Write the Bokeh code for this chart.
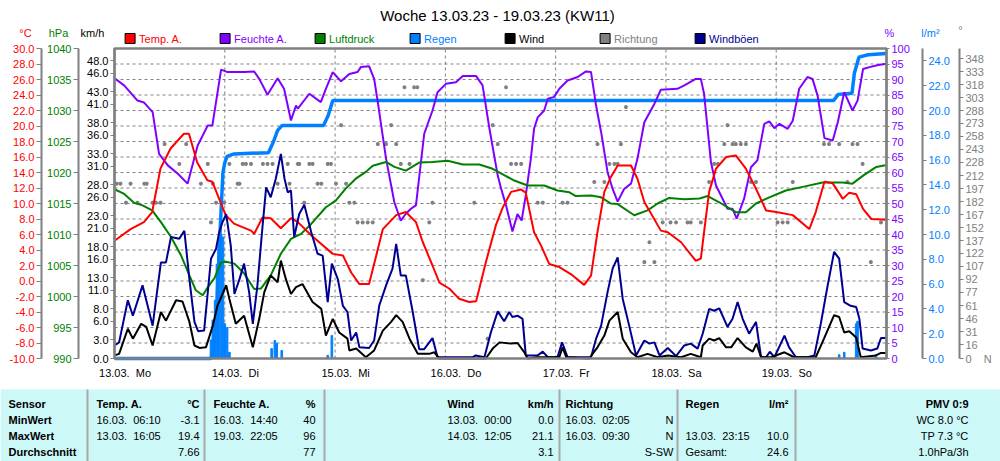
from bokeh.plotting import figure
from bokeh.models import Range1d, LinearAxis, FixedTicker, PrintfTickFormatter
from bokeh.embed import file_html
from bokeh.resources import INLINE
from bokeh.core.properties import value

FONT = "Liberation Sans"

# ---------------- data ----------------
temp_h = [0, 3.5, 6.4, 8.2, 10, 12.2, 15.1, 16.2, 18, 20.2, 21.3, 24.2, 26, 29.7, 30.4, 32.2, 34, 36.2,
          38.4, 39.9, 42.8, 43.8, 47.5, 49.7, 51.5, 53.3, 55.4, 58.4, 61.3, 63.4, 65.6, 67.1, 69.2, 70.7,
          72.9, 75, 77.2, 78.7, 80.8, 83, 84.5, 86.3, 88.5, 89.5, 91.3, 92.8, 94.6, 96.8, 99.3, 102.2,
          103.7, 105.1, 106.6, 108, 109.5, 112.4, 113.8, 115.3, 118.9, 120.4, 123.3, 126.5, 127.6, 128.3,
          129.4, 130.9, 133.1, 135.2, 137.4, 139.6, 141.8, 144, 147.6, 151.2, 152.6, 154.5, 156.3, 158.5,
          159.9, 161.4, 162.9, 164.7, 168]
temp_v = [5.2, 6.7, 7.6, 8.9, 14.5, 17.1, 19.0, 19.0, 15.3, 13.0, 12.8, 8.5, 7.4, 6.5, 6.1, 8.2, 8.1, 6.8,
          8.1, 7.6, 5.9, 5.4, 3.5, 3.3, 1.1, -0.4, -0.4, 6.7, 8.5, 8.9, 7.6, 5.0, 2.0, -0.2,
          -1.0, -2.3, -2.7, -2.6, 2.4, 7.2, 9.5, 11.5, 11.8, 11.4, 6.3, 4.6, 2.2, 1.8, 0.9, -0.5,
          0.7, 6.3, 11.5, 13.4, 14.9, 14.9, 13.2, 10.2, 6.5, 6.3, 5.0, 2.6, 2.9, 6.3,
          11.5, 14.5, 16.0, 16.2, 14.5, 11.9, 9.1, 8.9, 8.5, 6.7, 8.9, 12.8, 12.6, 10.6,
          11.4, 11.2, 9.3, 8.0, 7.9]

hum_h = [0, 2.1, 5, 6.4, 8.3, 9.7, 11.6, 13.8, 15.9, 18.1, 20.3, 21.3, 23.2, 24.6, 28.2, 30.4, 31.5, 33.3,
         35.5, 36.9, 38.4, 39.5, 39.9, 42.4, 44.9, 46, 47.5, 49.3, 51.1, 52.9, 53.6, 55.4, 56.5, 57.3,
         59.1, 60.9, 62.3, 63.4, 64.5, 65.6, 67.4, 69.2, 70.3, 72.1, 74.3, 75.8, 78.7, 80.1, 81.6, 83.4,
         84.1, 85.2, 86.6, 87.7, 88.6, 89.5, 90.6, 91.3, 92.1, 93.5, 94.3, 95.7, 96.8, 98.6, 100.8, 102.6,
         103.7, 104.8, 105.9, 107.3, 108.4, 109.5, 110.9, 112.4, 113.8, 115.3, 117.5, 118.9, 122.5, 124,
         126.5, 127.6, 128.3, 129.8, 130.9, 133.4, 134.5, 135.4, 137, 138.5, 139.9, 141.4, 142.5, 143.6,
         144.7, 146.5, 147.6, 149, 150.8, 151.9, 153, 154.5, 156.3, 157.4, 158.8, 160.6, 161.7, 162.9,
         164.3, 166.2, 168]
hum_v = [90.4, 88.1, 83.2, 82.6, 79.5, 66, 62.3, 59.6, 56.4, 68.7, 75.2, 75.2, 93.2, 92.4, 92.4, 92.6, 90.2, 85.1,
         90.4, 87, 76.8, 81.6, 80.6, 85.4, 82.7, 87, 92.4, 89.4, 91.8, 92.4, 94, 94.3, 90.2, 82.7,
         64.4, 50.4, 44.5, 46.7, 48.3, 49.4, 72.5, 80, 85.9, 88.6, 89.1, 91.1, 91.1, 88.1, 74.1, 59,
         55, 49.4, 41, 46.6, 44.5, 52.6, 64.4, 74.1, 77.8, 80, 83.8, 84.4, 87, 89.7, 90.8, 92.6,
         92.4, 81.6, 73, 60.1, 54.7, 50.6, 54.7, 56.4, 64.4, 76.2, 82.2, 86.7, 87, 88.1,
         90.2, 90.2, 85.4, 63.3, 55.8, 48.3, 48.3, 45.1, 51.5, 61.7, 63.9, 75.7, 76.5, 74.3,
         75.7, 74.1, 76.7, 87, 90.8, 90.2, 84.8, 71.1, 70.3, 76.2, 85.9, 80, 83.2, 93.4,
         94, 94.7, 95.1]

pres_h = [0, 2, 4.3, 6.1, 8.2, 10.1, 12.3, 14.5, 16.3, 17.7, 19.2, 20.3, 21.7, 23.2, 24.3, 26.1, 28.2, 30.4,
          31.9, 34, 36.2, 38.4, 40.6, 42.8, 46, 48.2, 50.3, 52.5, 54.7, 56.2, 59.1, 60.9, 63.4, 66.3,
          69.2, 72.5, 75.8, 79.4, 82.3, 85, 87, 89.9, 93.5, 96.4, 99, 100.4, 103.7, 105.9, 108, 109.5,
          113.1, 116, 118.2, 120.7, 124, 127.3, 129.1, 131.6, 135.2, 137.4, 139.6, 142.5, 146.1, 150.5,
          154.1, 158.5, 160.6, 162.9, 165.8, 168]
pres_v = [1017.3, 1016.6, 1015.1, 1014.7, 1013.9, 1012, 1009.6, 1006.6, 1003.4, 1001, 1000.2, 1001.5, 1002.9,
          1005.5, 1005.6, 1005.3, 1003.7, 1001.2, 1001.3, 1003.4, 1006.9, 1009.3, 1010.1, 1011.7, 1014.4,
          1015.5, 1017.4, 1019, 1020.1, 1021.1, 1021.7, 1020.9, 1020.3, 1021.6, 1021.7, 1021.9, 1021.3,
          1021.3, 1020.6, 1019.5, 1018.7, 1017.9, 1017.9, 1017.1, 1016.8, 1016.2, 1016.3, 1016, 1015,
          1014.9, 1013.1, 1013.9, 1015, 1015.9, 1015.7, 1015.8, 1016.2, 1015.2, 1013.6, 1013.6, 1015,
          1016, 1017.1, 1017.8, 1018.4, 1018.4, 1018.2, 1019.5, 1020.9, 1021.2]

rain_h = [0, 21.0, 21.4, 21.9, 22.3, 22.7, 23.2, 23.6, 24.0, 24.5, 26, 33.5, 34.5, 35.5, 36.5, 45.5, 46.5,
          47.5, 156.5, 157.5, 160.5, 161.0, 162, 164, 168]
rain_v = [0, 0, 0.5, 2, 4.5, 8, 12, 15, 15.8, 16.3, 16.5, 16.6, 17.4, 18.4, 18.8, 18.8, 19.6,
          20.8, 20.8, 21.3, 21.4, 23.0, 24.3, 24.5, 24.6]

bar_h = [21.0, 21.4, 21.9, 22.3, 22.7, 23.2, 23.6, 24.0, 24.5, 25.0, 34.2, 34.9, 35.3, 36.4, 46.4, 47.3,
         157.7, 158.8, 161.4, 161.7, 165.7]
bar_v = [1.5, 3.1, 4.7, 7.6, 9.5, 10.0, 9.8, 2.8, 2.5, 0.5, 0.8, 1.45, 1.2, 0.65, 0.25, 1.85,
         0.3, 0.5, 2.8, 3.0, 0.3]

wind_h = [0, 1, 2.9, 4, 5.8, 6.9, 8.3, 10.1, 11.2, 13.4, 14.8, 16.3, 17.4, 18.5, 19.9, 21.4, 22.4, 24.3,
          25, 26.4, 28.2, 30.1, 31.5, 32.6, 34, 35.5, 36.2, 37.3, 38.4, 39.5, 40.9, 43.1, 45, 46,
          47.5, 48.9, 50.7, 51.1, 52.6, 54.7, 56.5, 58.4, 60.2, 61.3, 62.7, 64.2, 66, 68.5, 69.6, 70.7,
          80.8, 82.3, 83.8, 86.3, 87.7, 89.2, 89.9, 92.1, 96.8, 97.5, 98.3, 103.3, 105.1, 106.6, 107.7,
          109.5, 110.6, 112.4, 113.8, 116, 118.2, 120.4, 123.3, 125.4, 127.6, 128, 129.4, 130.5, 131.6,
          133.1, 134.2, 135.6, 137.4, 138.9, 139.7, 140.7, 142.9, 145.8, 147.9, 152.6, 154.4, 156.6,
          157.7, 158.8, 159.9, 161.4, 162.4, 165.7, 166.8, 168]
wind_v = [0.5, 0.75, 4.8, 3.2, 5.6, 5.1, 2.1, 7.5, 6.1, 9.4, 9.2, 5.9, 2.1, 1.7, 1.8, 5.3, 8.5, 11.8,
          9.6, 5.6, 6.9, 1.8, 6.4, 10.7, 13.4, 12.3, 15.8, 12.8, 10.4, 11.5, 12.0, 9.1, 8.0, 3.7,
          6.4, 4.2, 3.2, 1.3, 1.6, 0.2, 1.3, 4.5, 5.9, 7.0, 5.9, 3.2, 0.75, 0.75, 1.0, 0,
          0, 1.6, 2.6, 2.4, 2.5, 1.0, 0, 0.2, 0.2, 1.8, 0.2, 0, 1.8, 3.7, 6.1,
          7.5, 3.2, 1.0, 0.2, 0.75, 0.2, 0.5, 0.2, 0.75, 0.2, 2.1, 3.2, 2.9, 3.3,
          1.8, 1.8, 3.3, 1.8, 1.1, 2.4, 0.2, 0.2, 1.0, 0.2, 0.2, 3.2, 7.0,
          6.7, 4.2, 4.4, 3.4, 0.2, 0.5, 0.9, 0.9]

gust_h = [0, 1, 2.9, 4, 6.1, 8.3, 10.1, 11.2, 12.3, 14.1, 15.2, 16.3, 17.4, 18.2, 19.5, 21, 22.1, 22.8,
          23.5, 24.3, 25.3, 26.1, 27.2, 28.2, 29.3, 30.1, 31.1, 32.2, 33, 34, 35.1, 36.2, 37, 37.7,
          38.4, 39.1, 40.2, 41.3, 42.8, 44.2, 45.3, 46.4, 47.3, 48.6, 49.7, 50.7, 51.5, 52.6, 53.3,
          55.4, 56.5, 57.6, 59.1, 60.5, 61.3, 62.3, 63.4, 64.9, 66.3, 67.4, 69.2, 70.3, 77.9, 78.6,
          80.5, 81.9, 83.4, 84.8, 85.9, 86.6, 87.7, 88.8, 89.5, 92.1, 93.2, 94.3, 96.4, 97.4, 98.6,
          103.7, 104.8, 105.9, 107.3, 108.4, 109.5, 110.6, 112, 113.5, 115.3, 116.4, 117.5, 118.6,
          120.4, 122.2, 124, 125.4, 126.9, 128, 129.4, 130.5, 131.6, 133.4, 134.5, 135.6, 136.7,
          138.1, 139.6, 140.7, 141.8, 142.6, 143.6, 145.8, 146.8, 148.3, 150.8, 152.3, 153.7, 155.2,
          156.6, 157.7, 158.8, 160.2, 161.4, 162.1, 162.8, 164.6, 166, 166.8, 168]
gust_v = [2.1, 2.6, 9.4, 6.9, 11.8, 5.3, 15.5, 15.5, 19.6, 19.3, 20.6, 12.8, 5.9, 4.4, 4.5, 16.1, 17.7, 20.4,
          22.0, 23.3, 18.2, 10.4, 12.8, 15.3, 10.7, 5.6, 11.8, 21.2, 27.6, 26.0, 29.0, 33.0, 29.0, 26.8,
          27.1, 19.6, 23.3, 24.8, 20.4, 16.9, 16.6, 9.1, 15.3, 12.8, 8.5, 7.5, 2.9, 4.2, 1.8,
          1.7, 2.9, 8.5, 11.8, 14.5, 18.5, 13.4, 13.4, 7.5, 1.5, 1.5, 3.3, 0.2, 0.2, 0.5,
          0.2, 4.2, 7.6, 6.0, 7.5, 6.7, 6.9, 6.4, 0.5, 0.5, 1.1, 0.2, 0.2, 2.6, 0.2,
          0.2, 3.2, 5.3, 10.7, 14.5, 16.3, 9.6, 5.3, 0.5, 2.9, 2.4, 2.6, 0.5,
          1.7, 0.4, 2.1, 2.4, 1.6, 4.0, 8.0, 7.7, 8.1, 5.1, 6.4, 9.1, 6.4,
          4.0, 5.9, 0.2, 0.2, 1.1, 0.2, 3.7, 1.8, 0.2, 0.2, 0.5, 5.6, 11.8,
          17.2, 16.1, 9.1, 8.5, 8.3, 6.4, 1.6, 1.3, 1.6, 3.3, 3.3]

dir_h = [0.5, 1.3, 2.5, 3.5, 5, 6.5, 7, 8.3, 9, 10, 10.9, 14.1, 15.6, 18.8, 20.3, 21, 21.4, 22.1, 23.9,
         25, 27.9, 28.6, 29.7, 26.8, 27.2, 32.3, 33.3, 34.4, 37.7, 39.9, 40.2, 35.5, 38.1, 41.3,
         42.4, 43.1, 46.4, 47.1, 44.2, 45, 48.2, 50.4, 51.1, 52.2, 52.9, 54, 55.1, 56.2, 49.3, 60.2,
         57.3, 59.1, 61.3, 62.3, 64.2, 63.1, 65.2, 65.9, 69.2, 68.5, 67.1, 78.3, 82.3, 83.4, 81.2,
         85.2, 86.3, 87.4, 88.5, 92.1, 93.2, 97.5, 98.6, 104.4, 106.6, 105.1, 107.7, 108.8, 109.5,
         110.2, 111.3, 116.4, 115.3, 117.5, 119.3, 121, 122.2, 124.7, 125.4,
         127.6, 129.4, 130.5, 131.3, 132.7, 134.5, 135.2, 136.3, 137.4, 133.4, 138.5, 139.6, 144.3,
         145.4, 146.5, 147.6, 154.4, 155.5, 157.7, 160.6, 161.7, 159.5, 162.8, 164.6, 166.8]
dir_v = [203, 203, 181, 203, 181, 203, 203, 181, 181, 181, 249, 226, 249, 203, 226, 158, 203, 181, 181,
         226, 226, 226, 226, 203, 203, 226, 226, 226, 226, 226, 226, 203, 203, 181,
         226, 226, 226, 226, 203, 203, 203, 203, 181, 181, 158, 158, 158, 158, 271, 271,
         249, 249, 249, 226, 226, 315, 315, 315, 181, 158, 91, 181, 271, 249, 23,
         315, 226, 226, 226, 181, 181, 181, 181, 205, 205, 249, 226, 226, 226,
         249, 292, 135, 112, 112, 158, 158, 158, 158, 158,
         158, 205, 226, 226, 249, 249, 249, 249, 249, 271, 205, 205, 158,
         158, 158, 205, 249, 249, 249, 249, 249, 205, 226, 112, 158]

wind_ticks = [0, 3, 6, 8, 11, 13, 16, 18, 21, 23, 26, 28, 31, 33, 36, 38, 41, 43, 46, 48]
dir_ticks = [0, 16, 31, 46, 61, 77, 92, 107, 122, 137, 152, 167, 182, 197, 212, 228, 243, 258, 273,
             288, 303, 318, 333, 348]
day_labels = ["13.03.  Mo", "14.03.  Di", "15.03.  Mi", "16.03.  Do", "17.03.  Fr", "18.03.  Sa",
              "19.03.  So"]
title_text = "Woche 13.03.23 - 19.03.23 (KW11)"
legend_names = ["Temp. A.", "Feuchte A.", "Luftdruck", "Regen", "Wind", "Richtung", "Windböen"]
unit_names = ["°C", "hPa", "km/h", "%", "l/m²", "°"]

# statistics table
row_labels = ["Sensor", "MinWert", "MaxWert", "Durchschnitt"]
temp_col = ["Temp. A.", "16.03.  06:10", "13.03.  16:05", ""]
temp_vals = ["°C", "-3.1", "19.4", "7.66"]
hum_col = ["Feuchte A.", "16.03.  14:40", "19.03.  22:05", ""]
hum_vals = ["%", "40", "96", "77"]
wind_col = ["Wind", "13.03.  00:00", "14.03.  12:05", ""]
wind_vals = ["km/h", "0.0", "21.1", "3.1"]
dir_col = ["Richtung", "16.03.  02:05", "16.03.  09:30", ""]
dir_vals = ["", "N", "N", "S-SW"]
rain_col = ["Regen", "", "13.03.  23:15", "Gesamt:"]
rain_vals = ["l/m²", "", "10.0", "24.6"]
pmv_col = ["PMV 0:9", "WC 8.0 °C", "TP 7.3 °C", "1.0hPa/3h"]

C_T, C_H, C_P, C_R = "#FF0000", "#8000FF", "#008000", "#0080FF"
C_W, C_D, C_G = "#000000", "#808080", "#000090"
series_colors = [C_T, C_H, C_P, C_R, C_W, C_D, C_G]
unit_colors = [C_T, C_P, "black", C_H, C_R, C_D]

# ---------------- geometry (canvas pixels) ----------------
CW, CH = 1000, 461
FX0, FX1, FY0, FY1 = 114, 886, 48, 358      # plot frame box
KX = 168 / (FX1 - FX0)


def X(px):
    return (px - FX0) * KX


def rng(lo, hi):
    s = (hi - lo) / (FY1 - FY0)
    return Range1d(lo - (CH - FY1) * s, hi + FY0 * s)


TR = rng(-10, 30)
ks = 40 / (FY1 - FY0)


def Y(py):
    return 30 - (py - FY0) * ks


p = figure(width=CW, height=CH, x_range=Range1d(X(0), X(CW)), y_range=TR,
           x_axis_location=None, y_axis_location=None, toolbar_location=None,
           output_backend="svg", min_border=0, min_border_left=0, min_border_right=0,
           min_border_top=0, min_border_bottom=0)
p.extra_y_ranges = {"hpa": rng(990, 1040), "wind": rng(0, 50), "hum": rng(0, 100),
                    "rain": rng(0, 25), "dir": rng(0, 360)}
p.outline_line_color = None
p.background_fill_color = "white"
p.border_fill_color = "white"
for g in p.grid:
    g.visible = False

# statistics table background + separators
p.quad(left=[X(0)], right=[X(CW)], top=[Y(389)], bottom=[Y(CH)], fill_color="#CCF8F8", line_color=None)
seps = [87, 204, 324, 559, 677, 795]
p.segment(x0=[X(s) for s in seps], y0=[Y(389)] * 6, x1=[X(s) for s in seps], y1=[Y(CH)] * 6,
          line_color="#A8A8A8", line_width=2)

# grid lines
hum_grid = list(range(5, 100, 5))
p.segment(x0=[0] * len(hum_grid), y0=hum_grid, x1=[168] * len(hum_grid), y1=hum_grid,
          y_range_name="hum", line_color="#808080", line_dash="3 3", line_width=1)
day_grid = [24 * i for i in range(1, 7)]
p.segment(x0=day_grid, y0=[-10] * 6, x1=day_grid, y1=[30] * 6,
          line_color="#808080", line_dash="3 3", line_width=1)


def mk_axis(rname, lo, hi, ticks, color, fmt, loc, tick_out, standoff, overrides=None):
    ax = LinearAxis(y_range_name=rname, ticker=FixedTicker(ticks=ticks), fixed_location=loc,
                    bounds=(lo, hi))
    if fmt:
        ax.formatter = PrintfTickFormatter(format=fmt)
    if overrides:
        ax.major_label_overrides = overrides
    ax.axis_line_color = "#808080"
    ax.axis_line_width = 2
    ax.major_tick_line_color = "#808080"
    ax.major_tick_out = tick_out
    ax.major_tick_in = 0
    ax.minor_tick_line_color = None
    ax.major_label_standoff = standoff
    ax.major_label_text_font = FONT
    ax.major_label_text_font_size = "11px"
    ax.major_label_text_color = color
    return ax


p.add_layout(mk_axis("default", -10, 30, list(range(-10, 31, 2)), C_T, "%.1f", X(41), 5, 2), "left")
p.add_layout(mk_axis("hpa", 990, 1040, list(range(990, 1041, 5)), C_P, "%d", X(78), 5, 2), "left")
p.add_layout(mk_axis("wind", 0, 50, wind_ticks, "black", "%.1f", X(FX0), 4, 2), "left")
p.add_layout(mk_axis("hum", 0, 100, list(range(0, 101, 5)), C_H, "%d", X(FX1), 3, 2), "right")
p.add_layout(mk_axis("rain", 0, 25, list(range(0, 25, 2)), C_R, "%.1f", X(922), 4, 2), "right")
p.add_layout(mk_axis("dir", 0, 360, dir_ticks, C_D, None, X(959), 4, 2,
                     overrides={0: "0\u00a0\u00a0\u00a0\u00a0N"}), "right")

xa = LinearAxis(ticker=FixedTicker(ticks=[24 * i + 2.3 for i in range(7)]), fixed_location=-10,
                bounds=(0, 168))
xa.major_label_overrides = {24 * i + 2.3: s.replace("  ", "\u00a0\u00a0") for i, s in enumerate(day_labels)}
xa.major_tick_out = 0
xa.major_tick_in = 0
xa.minor_tick_line_color = None
xa.axis_line_color = None
xa.major_label_standoff = 8
xa.major_label_text_font = FONT
xa.major_label_text_font_size = "11px"
xa.major_label_text_color = "black"
p.add_layout(xa, "below")

# series
p.scatter(dir_h, dir_v, y_range_name="dir", marker="asterisk", size=4, line_color=C_D, line_width=1.2)
p.vbar(x=bar_h, top=bar_v, width=0.35, y_range_name="rain", color=C_R)
p.line(rain_h, rain_v, y_range_name="rain", line_color=C_R, line_width=3.5)
p.line(hum_h, hum_v, y_range_name="hum", line_color=C_H, line_width=2)
p.line(pres_h, pres_v, y_range_name="hpa", line_color=C_P, line_width=2)
p.line(temp_h, temp_v, line_color=C_T, line_width=2)
p.line(gust_h, gust_v, y_range_name="wind", line_color=C_G, line_width=2)
p.line(wind_h, wind_v, y_range_name="wind", line_color=C_W, line_width=2)

# frame
p.quad(left=[0], right=[168], bottom=[-10], top=[30], fill_color=None, line_color="#808080",
       line_width=2.5)

# title, units, legend


def txt(px, py, s, color="black", size="11px", align="left", style="normal"):
    p.text(x=[X(px)], y=[Y(py)], text=[s.replace("  ", "\u00a0\u00a0")], text_align=align,
           text_baseline="middle", text_font=value(FONT), text_font_size=size,
           text_font_style=style, text_color=color)


txt(497, 15, title_text, size="15px", align="center")
for s, xr, c in zip(unit_names, [25, 58, 92, 889, 930, 960], unit_colors):
    txt(xr, 29 if s == "°" else 32, s, color=c, align="center")

for i, (s, c) in enumerate(zip(legend_names, series_colors)):
    x0 = 124.6 + 95 * i
    p.quad(left=[X(x0)], right=[X(x0 + 10)], top=[Y(33)], bottom=[Y(43)], fill_color=c,
           line_color="black", line_width=1)
    txt(x0 + 14, 38, s, color=c)

# table text
rows_y = [403, 419, 435, 451]


def put(col, xr, align, all_bold=False):
    for i, s in enumerate(col):
        if s:
            txt(xr, rows_y[i], s, align=align, style="bold" if (all_bold or i == 0) else "normal")


put(row_labels, 8, "left", all_bold=True)
put(temp_col, 96, "left")
put(temp_vals, 199, "right")
put(hum_col, 213, "left")
put(hum_vals, 315, "right")
put(wind_col, 447, "left")
put(wind_vals, 553, "right")
put(dir_col, 565, "left")
put(dir_vals, 673, "right")
put(rain_col, 685, "left")
put(rain_vals, 788, "right")
put(pmv_col, 968, "right")

open("out.html", "w").write(file_html(p, INLINE))
